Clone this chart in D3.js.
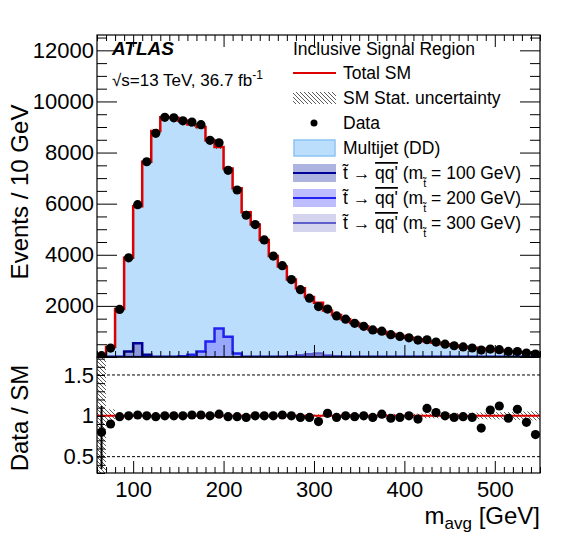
<!DOCTYPE html>
<html><head><meta charset="utf-8">
<script src="https://cdn.jsdelivr.net/npm/d3@7"></script>
<style>body{margin:0;background:#fff}text{font-family:"Liberation Sans",Arial,sans-serif}</style>
</head><body><svg id="c" width="568" height="551"></svg>
<script>
// bins of 10 GeV, 60..550
var binLo = d3.range(60, 550, 10);
var smTotal = [65, 390, 1880, 3880, 5900, 7640, 8840, 9380, 9360, 9240, 9100, 9000, 8480, 8220, 7380, 6600, 5660, 5180, 4580, 3950, 3540, 3030, 2690, 2350, 2120, 1820, 1640, 1480, 1330, 1200, 1080, 990, 900, 820, 750, 690, 620, 560, 500, 450, 400, 360, 320, 290, 255, 225, 195, 170, 150];
var ratio = [0.8, 0.9, 0.99, 1.0, 1.01, 1.0, 0.99, 1.0, 1.0, 1.0, 1.01, 1.01, 1.0, 1.02, 0.99, 0.99, 0.98, 1.0, 1.0, 1.0, 1.01, 1.0, 0.98, 0.98, 0.93, 1.03, 0.98, 1.0, 0.99, 1.0, 0.98, 1.02, 0.97, 0.98, 1.0, 0.96, 1.09, 1.04, 1.0, 0.98, 0.99, 0.98, 0.85, 1.07, 1.12, 0.97, 1.08, 0.92, 0.77];
var smErr = [1.0, 0.08, 0.02, 0.015, 0.01, 0.01, 0.01, 0.01, 0.01, 0.01, 0.01, 0.01, 0.01, 0.01, 0.01, 0.01, 0.012, 0.012, 0.012, 0.013, 0.013, 0.014, 0.015, 0.016, 0.017, 0.018, 0.019, 0.02, 0.021, 0.022, 0.023, 0.024, 0.025, 0.026, 0.027, 0.028, 0.03, 0.031, 0.033, 0.035, 0.037, 0.039, 0.041, 0.043, 0.045, 0.047, 0.05, 0.053, 0.056];
var sig100 = [0, 0, 0, 220, 540, 90, 0, 0, 0, 0, 0, 0, 0, 0, 0, 0, 0, 0, 0, 0, 0, 0, 0, 0, 0, 0, 0, 0, 0, 0, 0, 0, 0, 0, 0, 0, 0, 0, 0, 0, 0, 0, 0, 0, 0, 0, 0, 0, 0];
var sig200 = [0, 0, 0, 0, 0, 0, 0, 0, 0, 30, 90, 220, 610, 1120, 790, 140, 0, 0, 0, 0, 0, 0, 0, 0, 0, 0, 0, 0, 0, 0, 0, 0, 0, 0, 0, 0, 0, 0, 0, 0, 0, 0, 0, 0, 0, 0, 0, 0, 0];
var sig300 = [0, 0, 0, 0, 0, 0, 0, 0, 0, 0, 0, 0, 0, 0, 0, 0, 0, 0, 0, 0, 0, 30, 70, 110, 140, 60, 20, 0, 0, 0, 0, 0, 0, 0, 0, 0, 0, 0, 0, 0, 0, 0, 0, 0, 0, 0, 0, 0, 0];
var yTicks = [2000, 4000, 6000, 8000, 10000, 12000];
var rTicks = [0.5, 1, 1.5];
var xTicks = [100, 200, 300, 400, 500];

var svg = d3.select("#c");
var L = 97, R = 540, T = 35, M = 357, B = 473;
var x = d3.scaleLinear().domain([60, 550]).range([L, R]);
var y = d3.scaleLinear().domain([0, 12600]).range([M, T]);
var yr = d3.scaleLinear().domain([0.3, 1.72]).range([B, M]);

var defs = svg.append("defs");
var pat = defs.append("pattern").attr("id", "hatch").attr("patternUnits", "userSpaceOnUse")
  .attr("width", 4).attr("height", 4);
pat.append("path").attr("d", "M-1,-1L5,5").attr("stroke", "#333").attr("stroke-width", 0.8);
defs.append("clipPath").attr("id", "cp").append("rect").attr("x", L).attr("y", T).attr("width", R - L).attr("height", M - T);
defs.append("clipPath").attr("id", "cr").append("rect").attr("x", L).attr("y", M).attr("width", R - L).attr("height", B - M);

var bins = binLo.map(function(lo, i) {
  return {lo: lo, hi: lo + 10, sm: smTotal[i], r: ratio[i], data: smTotal[i] * ratio[i], e: smErr[i],
    s1: sig100[i], s2: sig200[i], s3: sig300[i]};
});
function stepLine(acc) {
  var pts = [];
  bins.forEach(function(b) { pts.push([x(b.lo), y(acc(b))], [x(b.hi), y(acc(b))]); });
  return pts;
}
var gTop = svg.append("g").attr("clip-path", "url(#cp)");
var area = d3.area().x(function(d) { return d[0]; }).y0(y(0)).y1(function(d) { return d[1]; });
gTop.append("path").attr("d", area(stepLine(function(b) { return b.sm; }))).attr("fill", "#bbdefc");
[["s3", "#c9c9ee", "#6060cc"], ["s1", "#8c9bd8", "#000099"], ["s2", "#99a8ff", "#2222ee"]].forEach(function(s) {
  var pts = [[x(60), y(0)]].concat(stepLine(function(b) { return b[s[0]]; }));
  pts.push([x(550), y(0)]);
  gTop.append("path").attr("d", d3.line()(pts)).attr("fill", s[1]).attr("stroke", s[2]).attr("stroke-width", 2.5);
});
// SM stat hatch
gTop.selectAll("rect.h").data(bins).enter().append("rect")
  .attr("x", function(b) { return x(b.lo); }).attr("width", x(70) - x(60))
  .attr("y", function(b) { return y(b.sm * (1 + b.e)); })
  .attr("height", function(b) { return Math.max(1, y(b.sm * (1 - b.e)) - y(b.sm * (1 + b.e))); })
  .attr("fill", "url(#hatch)");
gTop.append("path").attr("d", d3.line()([[x(60), y(0)]].concat(stepLine(function(b) { return b.sm; }))))
  .attr("fill", "none").attr("stroke", "#dd0000").attr("stroke-width", 2.5);
gTop.selectAll("circle").data(bins).enter().append("circle")
  .attr("cx", function(b) { return x(b.lo + 5); }).attr("cy", function(b) { return y(b.data); })
  .attr("r", 4.6).attr("fill", "#000");

// ratio panel
var bot = svg.append("g").attr("clip-path", "url(#cr)");
bot.selectAll("rect").data(bins).enter().append("rect")
  .attr("x", function(b) { return x(b.lo); }).attr("width", x(70) - x(60))
  .attr("y", function(b) { return yr(1 + b.e); })
  .attr("height", function(b) { return Math.max(1, yr(1 - b.e) - yr(1 + b.e)); })
  .attr("fill", "url(#hatch)");
[0.5, 1.5].forEach(function(v) {
  bot.append("line").attr("x1", L).attr("x2", R).attr("y1", yr(v)).attr("y2", yr(v))
    .attr("stroke", "#000").attr("stroke-dasharray", "3,2").attr("stroke-width", 1);
});
bot.append("line").attr("x1", L).attr("x2", R).attr("y1", yr(1)).attr("y2", yr(1)).attr("stroke", "#dd0000").attr("stroke-width", 2);
bot.append("line").attr("x1", x(65)).attr("x2", x(65)).attr("y1", yr(0.35)).attr("y2", yr(1.12)).attr("stroke", "#000").attr("stroke-width", 2);
bot.selectAll("circle").data(bins).enter().append("circle")
  .attr("cx", function(b) { return x(b.lo + 5); }).attr("cy", function(b) { return yr(b.r); })
  .attr("r", 4.6).attr("fill", "#000");

// frames and axes
function frame(y0, y1) {
  svg.append("rect").attr("x", L).attr("y", y0).attr("width", R - L).attr("height", y1 - y0)
    .attr("fill", "none").attr("stroke", "#000").attr("stroke-width", 1.2);
}
frame(T, M); frame(M, B);
function xAxis(yPos, labels, dir) {
  var g = svg.append("g").attr("transform", "translate(0," + yPos + ")")
    .call(d3.axisBottom(x).tickValues(d3.range(60, 551, 10)).tickSize(dir * 6).tickFormat(""));
  g.select(".domain").remove();
  g.selectAll(".tick line").attr("y2", function(d) { return d % 100 === 0 ? dir * 12 : dir * 6; });
  if (labels) {
    var gl = svg.append("g").attr("transform", "translate(0," + yPos + ")")
      .call(d3.axisBottom(x).tickValues(xTicks).tickSize(0).tickPadding(8));
    gl.select(".domain").remove();
    gl.selectAll("text").attr("font-size", 22).attr("fill", "#000");
  }
}
xAxis(M, false, -1); xAxis(T, false, 1); xAxis(B, true, -1);
var gy = svg.append("g").attr("transform", "translate(" + L + ",0)")
  .call(d3.axisLeft(y).tickValues(d3.range(0, 12600, 500)).tickSize(-10).tickFormat(""));
gy.select(".domain").remove();
gy.selectAll(".tick line").attr("x2", function(d) { return d % 2000 === 0 ? 20 : 10; });
var gy2 = svg.append("g").attr("transform", "translate(" + R + ",0)")
  .call(d3.axisRight(y).tickValues(d3.range(0, 12600, 500)).tickSize(-10).tickFormat(""));
gy2.select(".domain").remove();
gy2.selectAll(".tick line").attr("x2", function(d) { return d % 2000 === 0 ? -20 : -10; });
var gyl = svg.append("g").attr("transform", "translate(" + L + ",0)")
  .call(d3.axisLeft(y).tickValues(yTicks).tickSize(0).tickPadding(3).tickFormat(d3.format("d")));
gyl.select(".domain").remove();
gyl.selectAll("text").attr("font-size", 22).attr("fill", "#000");
var gr = svg.append("g").attr("transform", "translate(" + L + ",0)")
  .call(d3.axisLeft(yr).tickValues(d3.range(0.3, 1.72, 0.1)).tickSize(-8).tickFormat(""));
gr.select(".domain").remove();
var grl = svg.append("g").attr("transform", "translate(" + L + ",0)")
  .call(d3.axisLeft(yr).tickValues(rTicks).tickSize(0).tickPadding(3).tickFormat(d3.format("")));
grl.select(".domain").remove();
grl.selectAll("text").attr("font-size", 22).attr("fill", "#000");

// axis titles
svg.append("text").attr("transform", "translate(28,192) rotate(-90)").attr("text-anchor", "middle")
  .attr("font-size", 24).text("Events / 10 GeV");
svg.append("text").attr("transform", "translate(28,418) rotate(-90)").attr("text-anchor", "middle")
  .attr("font-size", 24).text("Data / SM");
var xt = svg.append("text").attr("x", 540).attr("y", 524).attr("text-anchor", "end").attr("font-size", 24);
xt.append("tspan").text("m");
xt.append("tspan").attr("font-size", 17).attr("dy", 5).text("avg");
xt.append("tspan").attr("dy", -5).text(" [GeV]");

// ATLAS label
svg.append("text").attr("x", 112).attr("y", 55).attr("font-size", 19).attr("font-weight", "bold")
  .attr("font-style", "italic").text("ATLAS");
var lum = svg.append("text").attr("x", 112).attr("y", 86).attr("font-size", 17);
lum.append("tspan").text("\u221As=13 TeV, 36.7 fb");
lum.append("tspan").attr("font-size", 12).attr("dy", -7).text("-1");

// legend
var lx = 293, lw = 43;
svg.append("text").attr("x", lx).attr("y", 55).attr("font-size", 17.5).text("Inclusive Signal Region");
var legend = [
  {t: "Total SM", k: "line"},
  {t: "SM Stat. uncertainty", k: "hatch"},
  {t: "Data", k: "dot"},
  {t: "Multijet (DD)", k: "box", f: "#bbdefc", s: "#8cc4f4"},
  {t: "100", k: "sig", f: "#aeb4e0", s: "#000099"},
  {t: "200", k: "sig", f: "#bcbcff", s: "#2222ee"},
  {t: "300", k: "sig", f: "#d4d4ee", s: "#6060cc"}
];
legend.forEach(function(e, i) {
  var cy = 73 + i * 25;
  if (e.k === "line") svg.append("line").attr("x1", lx).attr("x2", lx + lw).attr("y1", cy).attr("y2", cy).attr("stroke", "#dd0000").attr("stroke-width", 2);
  if (e.k === "hatch") svg.append("rect").attr("x", lx).attr("y", cy - 6).attr("width", lw).attr("height", 12).attr("fill", "url(#hatch)");
  if (e.k === "dot") svg.append("circle").attr("cx", lx + 21).attr("cy", cy).attr("r", 3.5);
  if (e.k === "box") svg.append("rect").attr("x", lx + 1).attr("y", cy - 8).attr("width", lw - 2).attr("height", 16).attr("fill", e.f).attr("stroke", e.s).attr("stroke-width", 1.5);
  if (e.k === "sig") {
    svg.append("rect").attr("x", lx).attr("y", cy - 9).attr("width", lw).attr("height", 18).attr("fill", e.f);
    svg.append("line").attr("x1", lx).attr("x2", lx + lw).attr("y1", cy).attr("y2", cy).attr("stroke", e.s).attr("stroke-width", 2);
  }
  var t = svg.append("text").attr("x", lx + 50).attr("y", cy + 6).attr("font-size", 17.5);
  if (e.k !== "sig") { t.text(e.t); return; }
  t.append("tspan").text("t\u0303 \u2192 ");
  t.append("tspan").attr("text-decoration", "overline").text("qq'");
  t.append("tspan").text(" (m");
  t.append("tspan").attr("font-size", 11).attr("dy", 8).text("t\u0303");
  t.append("tspan").attr("dy", -8).text(" = " + e.t + " GeV)");
});
</script></body></html>
